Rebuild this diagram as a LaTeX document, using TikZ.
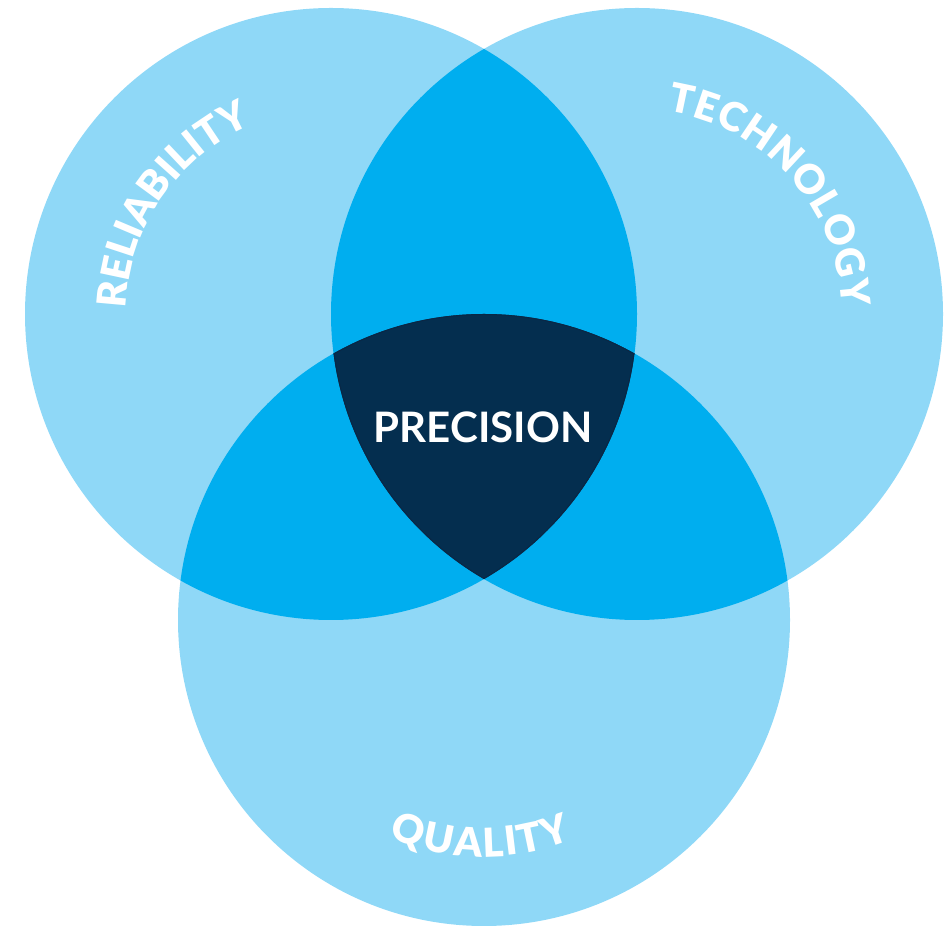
\documentclass[tikz,border=0pt]{standalone}
\usepackage{fontspec}
\setmainfont{Lato}
\newfontfamily\heavyfont{Lato Black}
\usetikzlibrary{decorations.text,calc}
\definecolor{vlight}{HTML}{8FD8F7}
\definecolor{vmid}{HTML}{00AEEF}
\definecolor{vdark}{HTML}{042E4F}
\definecolor{vedge}{HTML}{0A2745}
\begin{document}
\begin{tikzpicture}[x=1pt,y=1pt,
  arctext/.style={decorate,decoration={text along path,text align={fit to path},text color=white,text={|\heavyfont\fontsize{40}{40}\selectfont|#1}}},
  centerlabel/.style={text=white,font=\bfseries\fontsize{42}{42}\selectfont,inner sep=0pt}]
\useasboundingbox (0,0) rectangle (945,926);
\coordinate (L) at (331,612);
\coordinate (R) at (637,612);
\coordinate (B) at (484,306);
\def\rr{306}
% single circles
\fill[vlight] (L) circle[radius=\rr];
\fill[vlight] (R) circle[radius=\rr];
\fill[vlight] (B) circle[radius=\rr];
% pairwise overlaps
\begin{scope}
  \clip (L) circle[radius=\rr];
  \fill[vmid] (R) circle[radius=\rr];
  \fill[vmid] (B) circle[radius=\rr];
\end{scope}
\begin{scope}
  \clip (R) circle[radius=\rr];
  \fill[vmid] (B) circle[radius=\rr];
\end{scope}
% triple overlap
\begin{scope}
  \clip (L) circle[radius=\rr];
  \clip (R) circle[radius=\rr];
  \clip (B) circle[radius=\rr];
  \fill[vdark] (B) circle[radius=\rr];
  \draw[vedge,line width=2pt] (L) circle[radius=\rr];
  \draw[vedge,line width=2pt] (R) circle[radius=\rr];
  \draw[vedge,line width=2pt] (B) circle[radius=\rr];
\end{scope}
% labels
\node[centerlabel] (precision) at (483,499) {PRECISION};
\path[arctext=RELIABILITY] ($(L)+(178.5:205)$) arc[start angle=178.5,end angle=113.5,radius=205];
\path[arctext=TECHNOLOGY] ($(R)+(81.5:205)$) arc[start angle=81.5,end angle=2,radius=205];
\path[arctext=QUALITY] ($(B)+(246.4:237)$) arc[start angle=246.4,end angle=291.8,radius=237];
\end{tikzpicture}
\end{document}
